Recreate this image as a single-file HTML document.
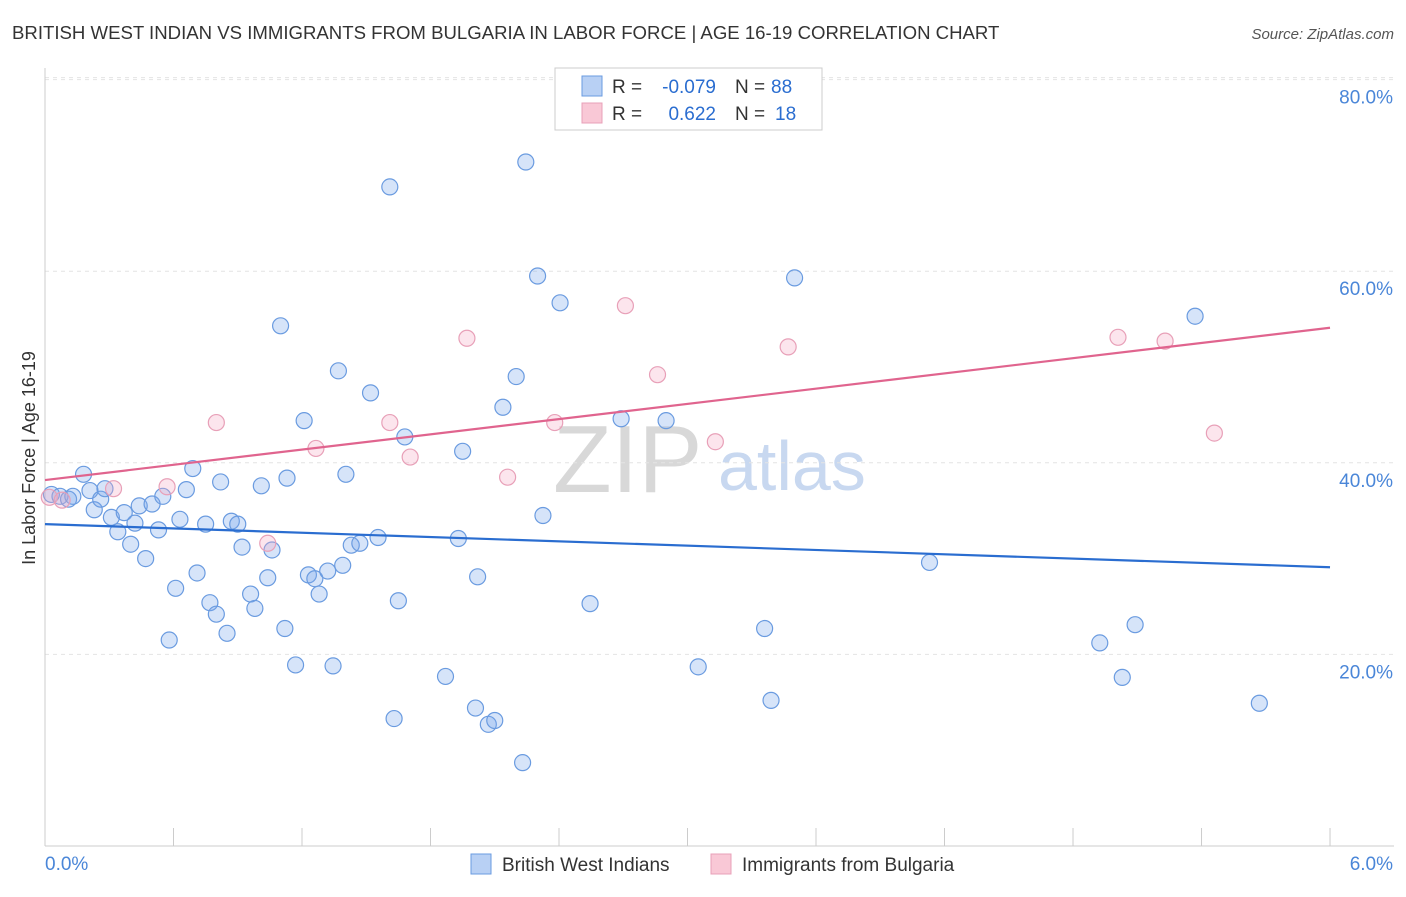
<!DOCTYPE html>
<html><head><meta charset="utf-8"><style>
body{margin:0;background:#fff;font-family:"Liberation Sans",sans-serif}
svg text{font-family:"Liberation Sans",sans-serif}
</style></head><body>
<svg width="1406" height="892" id="c">
<text x="12" y="39" font-size="18.6" fill="#333">BRITISH WEST INDIAN VS IMMIGRANTS FROM BULGARIA IN LABOR FORCE | AGE 16-19 CORRELATION CHART</text>
<text x="1394" y="39" font-size="15" fill="#555" text-anchor="end" font-style="italic">Source: ZipAtlas.com</text>
<text x="35" y="458" font-size="18" fill="#333" text-anchor="middle" transform="rotate(-90 35 458)">In Labor Force | Age 16-19</text>
<text x="553" y="492" font-size="96" fill="#d8d8d8" font-family="Liberation Serif">ZIP</text>
<text x="718" y="490" font-size="70" fill="#c8d8f0">atlas</text>
<g id="grid"></g><g id="pts"></g>
<g>
<rect x="555" y="68" width="267" height="62" fill="#fff" stroke="#ccc"/>
<rect x="582" y="76" width="20" height="20" fill="#b8d0f4" stroke="#6a9be0"/>
<rect x="582" y="103" width="20" height="20" fill="#f9c8d6" stroke="#e8a0b8"/>
<text x="612" y="93" font-size="19" fill="#333">R =</text>
<text x="716" y="93" font-size="19" fill="#2a6dd0" text-anchor="end">-0.079</text>
<text x="735" y="93" font-size="19" fill="#333">N =</text>
<text x="771" y="93" font-size="19" fill="#2a6dd0">88</text>
<text x="612" y="120" font-size="19" fill="#333">R =</text>
<text x="716" y="120" font-size="19" fill="#2a6dd0" text-anchor="end">0.622</text>
<text x="735" y="120" font-size="19" fill="#333">N =</text>
<text x="775" y="120" font-size="19" fill="#2a6dd0">18</text>
</g>
<g>
<rect x="471" y="854" width="20" height="20" fill="#b8d0f4" stroke="#6a9be0"/>
<text x="502" y="871" font-size="19" fill="#333">British West Indians</text>
<rect x="711" y="854" width="20" height="20" fill="#f9c8d6" stroke="#e8a0b8"/>
<text x="742" y="871" font-size="19" fill="#333">Immigrants from Bulgaria</text>
</g>
</svg>
<script>
const blueX=[0.03,0.07,0.11,0.13,0.18,0.21,0.23,0.26,0.28,0.31,0.34,0.37,0.40,0.42,0.44,0.47,0.50,0.53,0.55,0.58,0.61,0.63,0.66,0.69,0.71,0.75,0.77,0.80,0.82,0.85,0.87,0.90,0.92,0.96,0.98,1.01,1.04,1.06,1.10,1.12,1.13,1.17,1.21,1.23,1.26,1.28,1.32,1.345,1.37,1.39,1.405,1.43,1.47,1.52,1.555,1.61,1.63,1.65,1.68,1.87,1.93,1.95,2.01,2.02,2.07,2.10,2.138,2.20,2.23,2.245,2.30,2.325,2.405,2.545,2.69,2.90,3.05,3.36,3.39,3.50,4.13,4.925,5.03,5.09,5.37,5.67];
const blueY=[36.7,36.5,36.2,36.5,38.8,37.1,35.1,36.2,37.3,34.3,32.8,34.8,31.5,33.7,35.5,30.0,35.7,33.0,36.5,21.5,26.9,34.1,37.2,39.4,28.5,33.6,25.4,24.2,38.0,22.2,33.9,33.6,31.2,26.3,24.8,37.6,28.0,30.9,54.3,22.7,38.4,18.9,44.4,28.3,27.9,26.3,28.7,18.8,49.6,29.3,38.8,31.4,31.6,47.3,32.2,68.8,13.3,25.6,42.7,17.7,32.1,41.2,14.4,28.1,12.7,13.1,45.8,49.0,8.7,71.4,59.5,34.5,56.7,25.3,44.6,44.4,18.7,22.7,15.2,59.3,29.6,21.2,17.6,23.1,55.3,14.9];
const pinkX=[0.02,0.08,0.32,0.57,0.80,1.04,1.265,1.61,1.705,1.97,2.16,2.38,2.71,2.86,3.13,3.47,5.01,5.23,5.46];
const pinkY=[36.4,36.1,37.3,37.5,44.2,31.6,41.5,44.2,40.6,53.0,38.5,44.2,56.4,49.2,42.2,52.1,53.1,52.7,43.1];
const blueLine=[33.6,29.1], pinkLine=[38.2,54.1];
const X=v=>45+v*214.17, Y=v=>846-v*9.58;
const NS="http://www.w3.org/2000/svg";
const g=document.getElementById('grid'), p=document.getElementById('pts');
function mk(t,a,par){const e=document.createElementNS(NS,t);for(const k in a)e.setAttribute(k,a[k]);par.appendChild(e);return e;}
const yTicks=[20,40,60,80];
yTicks.forEach(v=>{
 const l=mk('line',{x1:45,x2:1394,y1:Y(v),y2:Y(v),stroke:'#e4e4e4','stroke-dasharray':'4,4'},g);
 
 
 const t=mk('text',{x:1393,y:Y(v)+24,'font-size':19,fill:'#4a86d8','text-anchor':'end'},g);
 t.textContent=v.toFixed(1)+'%';
 
 
});
mk('line',{x1:45,x2:1394,y1:Y(80)-2,y2:Y(80)-2,stroke:'#e4e4e4','stroke-dasharray':'4,4'},g);
mk('line',{x1:45,x2:45,y1:68,y2:846,stroke:'#ccc'},g);
mk('line',{x1:45,x2:1394,y1:846,y2:846,stroke:'#ccc'},g);
const xTicks=[0,0.6,1.2,1.8,2.4,3.0,3.6,4.2,4.8,5.4,6.0];
xTicks.forEach(v=>{const l=mk('line',{x1:X(v),x2:X(v),y1:828,y2:846,stroke:'#ccc'},g);
 
 });
const xl=['0.0%','6.0%'];
[[45,'start',0],[1393,'end',1]].forEach(a=>{const t=mk('text',{x:a[0],y:870,'font-size':19,fill:'#4a86d8','text-anchor':a[1]},g);t.textContent=xl[a[2]];
 
 });
blueX.forEach((x,i)=>{const c=mk('circle',{cx:X(x),cy:Y(blueY[i]),r:8,fill:'rgba(120,165,235,0.3)',stroke:'#6a9be0','stroke-width':1.2},p);
 
 });
pinkX.forEach((x,i)=>{const c=mk('circle',{cx:X(x),cy:Y(pinkY[i]),r:8,fill:'rgba(245,170,195,0.3)',stroke:'#e8a0b8','stroke-width':1.2},p);
 
 });
const bl=mk('line',{x1:X(0),x2:X(6),y1:Y(blueLine[0]),y2:Y(blueLine[1]),stroke:'#2a6dd0','stroke-width':2.2},p);


const pl=mk('line',{x1:X(0),x2:X(6),y1:Y(pinkLine[0]),y2:Y(pinkLine[1]),stroke:'#e0648e','stroke-width':2.2},p);


</script>
</body></html>
